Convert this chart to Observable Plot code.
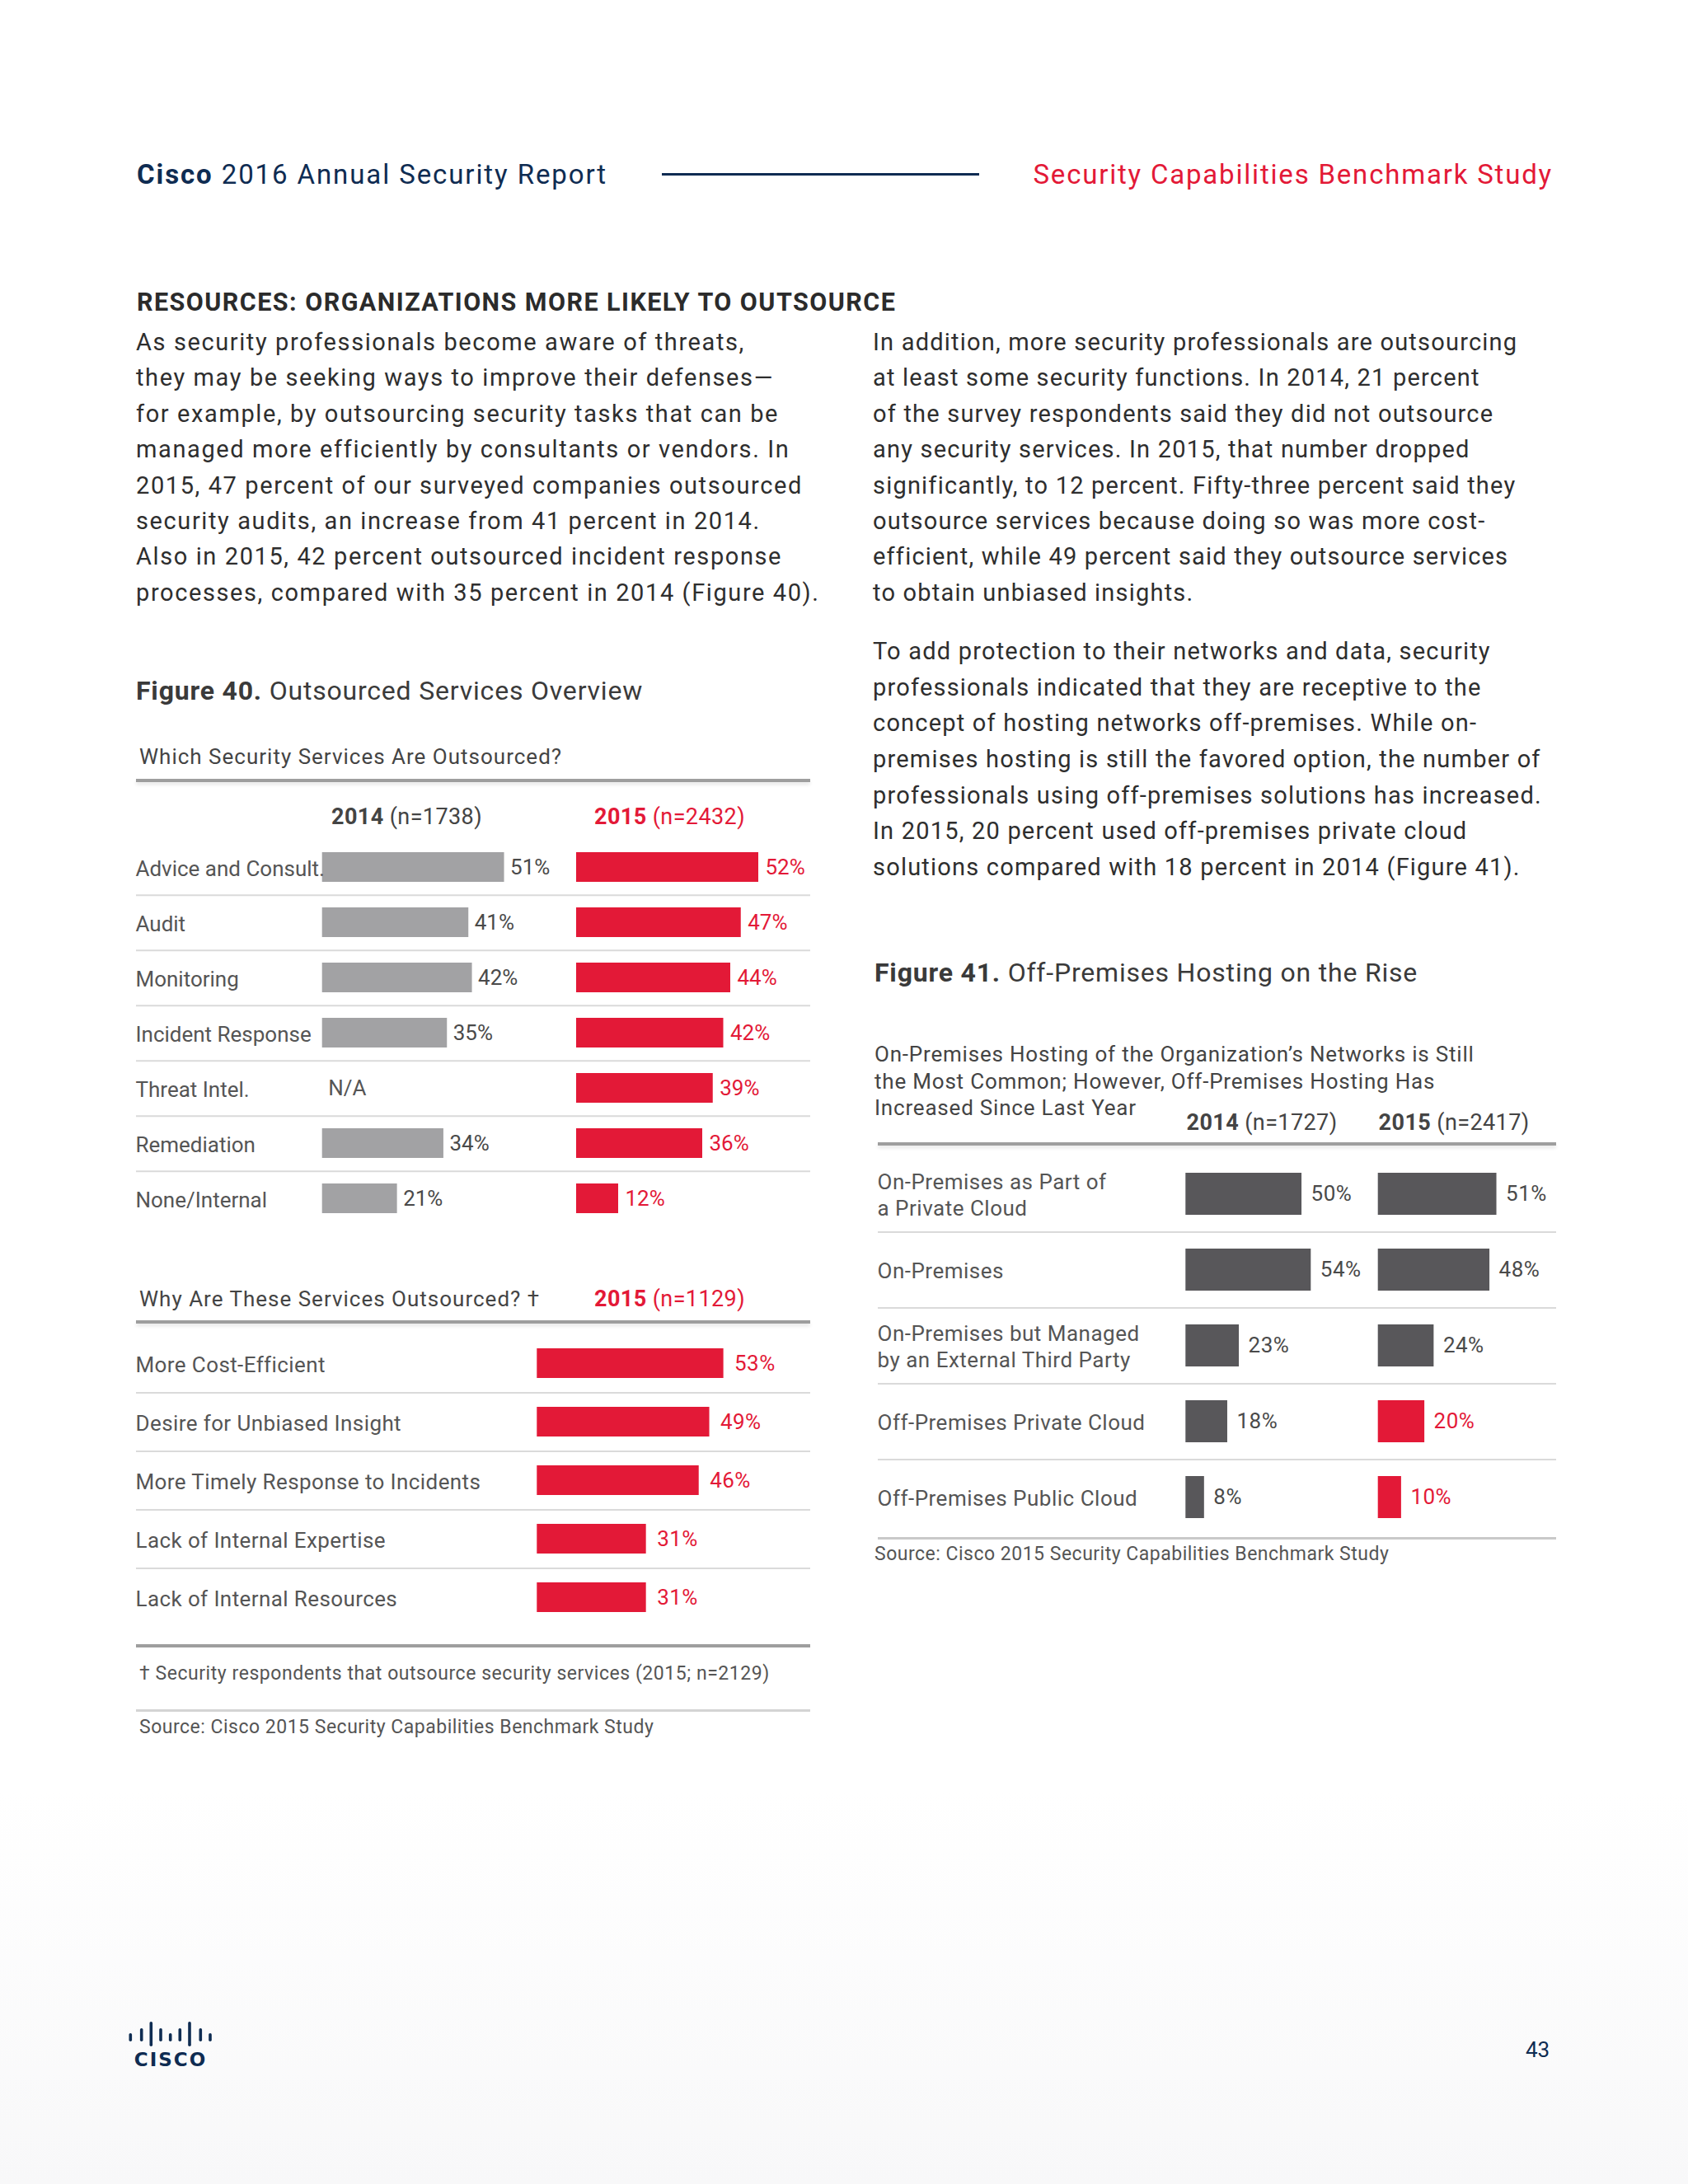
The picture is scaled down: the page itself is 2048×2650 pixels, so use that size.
<!DOCTYPE html>
<html>
<head>
<meta charset="utf-8">
<script src="https://cdn.jsdelivr.net/npm/d3@7"></script>
<script src="https://cdn.jsdelivr.net/npm/@observablehq/plot@0.6"></script>
<style>
html, body { margin: 0; padding: 0; background: #fff; }
#page { position: relative; width: 2048px; height: 2650px; overflow: hidden;
  font-family: Roboto, "Noto Sans", sans-serif; color: #333;
  background: linear-gradient(to bottom, #ffffff 0%, #ffffff 82%, #f8f8f9 100%); }
.t { position: absolute; white-space: nowrap; line-height: 1; transform: translateY(-50%); }
.para { position: absolute; white-space: nowrap; font-size: 29px; letter-spacing: 1.3px; color: #2e2e2e; }
.rule { position: absolute; }
.plot { position: absolute; }
.plot svg { overflow: visible; }
b { font-weight: 700; }
</style>
</head>
<body>
<div id="page"></div>
<script>
// ---------- data ----------
const services = ["Advice and Consult.", "Audit", "Monitoring", "Incident Response", "Threat Intel.", "Remediation", "None/Internal"];
const services2014 = [51, 41, 42, 35, null, 34, 21];
const services2015 = [52, 47, 44, 42, 39, 36, 12];

const reasons = ["More Cost-Efficient", "Desire for Unbiased Insight", "More Timely Response to Incidents", "Lack of Internal Expertise", "Lack of Internal Resources"];
const reasons2015 = [53, 49, 46, 31, 31];

const hosting = ["On-Premises as Part of\na Private Cloud", "On-Premises", "On-Premises but Managed\nby an External Third Party", "Off-Premises Private Cloud", "Off-Premises Public Cloud"];
const hosting2014 = [50, 54, 23, 18, 8];
const hosting2015 = [51, 48, 24, 20, 10];

// ---------- helpers ----------
const RED = "#e31937";
const NAVY = "#0f2c52";
const LIGHTGRAY = "#a2a2a4";
const DARKGRAY = "#58575a";
const page = document.getElementById("page");

function txt(html, x, y, style = {}) {
  const d = document.createElement("div");
  d.className = "t";
  d.style.left = x + "px";
  d.style.top = y + "px";
  Object.assign(d.style, style);
  d.innerHTML = html;
  page.append(d);
  return d;
}
function para(lines, x, top, lh, style = {}) {
  const d = document.createElement("div");
  d.className = "para";
  d.style.left = x + "px";
  d.style.top = top + "px";
  d.style.lineHeight = lh + "px";
  Object.assign(d.style, style);
  d.innerHTML = lines.join("<br>");
  page.append(d);
}
function rule(x, y, w, h, color, shadow) {
  const d = document.createElement("div");
  d.className = "rule";
  Object.assign(d.style, {left: x + "px", top: y + "px", width: w + "px", height: h + "px", background: color});
  if (shadow) d.style.boxShadow = "0 3px 4px rgba(0,0,0,0.10)";
  page.append(d);
}

function tableColumn({cats, vals, step, barFrac, x0, pxPer, width, barFill, valueFill, dx,
                      withLabels = false, labelColor = "#555", labelSize = 26, lineHeight = 1.23, naText = null,
                      letterSpacing = "0px"}) {
  const data = cats.map((c, i) => ({cat: c, v: vals[i]}));
  const present = data.filter(d => d.v != null);
  const missing = data.filter(d => d.v == null);
  const height = step * cats.length;
  const marks = [];
  if (withLabels) {
    marks.push(Plot.ruleY(cats.slice(0, -1), {y: d => d, dy: step / 2, stroke: "#dadada", strokeWidth: 2}));
  }
  marks.push(Plot.barX(present, {x: "v", y: "cat", fill: barFill}));
  if (withLabels) {
    marks.push(Plot.text(data, {y: "cat", text: "cat", frameAnchor: "left", textAnchor: "start", dx: -1,
      fill: labelColor, fontSize: labelSize, lineHeight}));
  }
  marks.push(Plot.text(present, {x: "v", y: "cat", text: d => d.v + "%", textAnchor: "start", dx,
    fill: valueFill, fontSize: 26}));
  if (naText && missing.length) {
    marks.push(Plot.text(missing, {x: () => 0, y: "cat", text: () => naText, textAnchor: "start", dx: 7,
      fill: "#555", fontSize: 26}));
  }
  return Plot.plot({
    width, height, margin: 0,
    x: {domain: [0, 100], range: [x0, x0 + 100 * pxPer], axis: null},
    y: {domain: cats, range: [0, height], paddingInner: 1 - barFrac, paddingOuter: (1 - barFrac) / 2, align: 0.5, axis: null},
    color: {type: "identity"},
    style: {fontFamily: "Roboto, 'Noto Sans', sans-serif", fontSize: "26px", background: "transparent",
      overflow: "visible", letterSpacing},
    marks
  });
}
function place(svg, left, top) {
  const d = document.createElement("div");
  d.className = "plot";
  d.style.left = left + "px";
  d.style.top = top + "px";
  d.append(svg);
  page.append(d);
}

// ---------- header ----------
txt(`<b>Cisco</b> 2016 Annual Security Report`, 166, 211, {fontSize: "33px", letterSpacing: "1.9px", color: NAVY});
rule(803, 210, 385, 3, NAVY);
const red = txt(`Security Capabilities Benchmark Study`, 0, 211, {fontSize: "33px", letterSpacing: "1.8px", color: RED});
red.style.left = ""; red.style.right = (2048 - 1884) + "px";

txt(`RESOURCES: ORGANIZATIONS MORE LIKELY TO OUTSOURCE`, 166, 367,
  {fontSize: "30.5px", letterSpacing: "1.45px", fontWeight: "700", color: "#2b2b2b"});

// ---------- body text ----------
para([
  "As security professionals become aware of threats,",
  "they may be seeking ways to improve their defenses—",
  "for example, by outsourcing security tasks that can be",
  "managed more efficiently by consultants or vendors. In",
  "2015, 47 percent of our surveyed companies outsourced",
  "security audits, an increase from 41 percent in 2014.",
  "Also in 2015, 42 percent outsourced incident response",
  "processes, compared with 35 percent in 2014 (Figure 40)."
], 165, 394, 43.4, {letterSpacing: "1.6px"});
para([
  "In addition, more security professionals are outsourcing",
  "at least some security functions. In 2014, 21 percent",
  "of the survey respondents said they did not outsource",
  "any security services. In 2015, that number dropped",
  "significantly, to 12 percent. Fifty-three percent said they",
  "outsource services because doing so was more cost-",
  "efficient, while 49 percent said they outsource services",
  "to obtain unbiased insights."
], 1059, 394, 43.4, {letterSpacing: "1.2px"});
para([
  "To add protection to their networks and data, security",
  "professionals indicated that they are receptive to the",
  "concept of hosting networks off-premises. While on-",
  "premises hosting is still the favored option, the number of",
  "professionals using off-premises solutions has increased.",
  "In 2015, 20 percent used off-premises private cloud",
  "solutions compared with 18 percent in 2014 (Figure 41)."
], 1059, 769, 43.65, {letterSpacing: "1.2px"});

// ---------- Figure 40 ----------
txt(`<b>Figure 40.</b> Outsourced Services Overview`, 165, 838, {fontSize: "32px", letterSpacing: "0.8px", color: "#3a3a3a"});
txt(`Which Security Services Are Outsourced?`, 169, 918, {fontSize: "26px", letterSpacing: "1px", color: "#444"});
rule(165, 945, 818, 4, "#9e9e9e", true);
txt(`<b>2014</b> (n=1738)`, 402, 991, {fontSize: "27px", letterSpacing: "0.4px", color: "#444"});
txt(`<b>2015</b> (n=2432)`, 721, 991, {fontSize: "27px", letterSpacing: "0.4px", color: RED});

const top40 = {cats: services, step: 67.3, barFrac: 0.535, width: 818};
place(tableColumn({...top40, vals: services2014, x0: 225.7, pxPer: 4.33, barFill: LIGHTGRAY, valueFill: "#4a4a4a", dx: 7,
  withLabels: true, naText: "N/A"}), 165, 1017);
place(tableColumn({...top40, vals: services2015, x0: 534, pxPer: 4.25, barFill: RED, valueFill: RED, dx: 8}), 165, 1017);

txt(`Why Are These Services Outsourced? †`, 169, 1575.5, {fontSize: "26px", letterSpacing: "1px", color: "#444"});
txt(`<b>2015</b> (n=1129)`, 721, 1575.5, {fontSize: "27px", letterSpacing: "0.4px", color: RED});
rule(165, 1602, 818, 4, "#9e9e9e", true);
place(tableColumn({cats: reasons, vals: reasons2015, step: 71, barFrac: 0.507, width: 818, x0: 486.3, pxPer: 4.27,
  barFill: RED, valueFill: RED, dx: 13, withLabels: true, letterSpacing: "0.4px"}), 165, 1617.5);
rule(165, 1995, 818, 4, "#9e9e9e", false);
txt(`† Security respondents that outsource security services (2015; n=2129)`, 169, 2030,
  {fontSize: "23px", letterSpacing: "0.55px", color: "#555"});
rule(165, 2074, 818, 3, "#d4d4d4", false);
txt(`Source: Cisco 2015 Security Capabilities Benchmark Study`, 169, 2095,
  {fontSize: "23px", letterSpacing: "0.5px", color: "#555"});

// ---------- Figure 41 ----------
txt(`<b>Figure 41.</b> Off-Premises Hosting on the Rise`, 1061, 1179.5, {fontSize: "32px", letterSpacing: "0.8px", color: "#3a3a3a"});
const sub = document.createElement("div");
sub.className = "para";
Object.assign(sub.style, {left: "1061px", top: "1263.4px", lineHeight: "32.3px", fontSize: "26px",
  letterSpacing: "0.8px", color: "#444"});
sub.innerHTML = ["On-Premises Hosting of the Organization’s Networks is Still",
  "the Most Common; However, Off-Premises Hosting Has", "Increased Since Last Year"].join("<br>");
page.append(sub);
txt(`<b>2014</b> (n=1727)`, 1439.5, 1362, {fontSize: "27px", letterSpacing: "0.4px", color: "#444"});
txt(`<b>2015</b> (n=2417)`, 1672.6, 1362, {fontSize: "27px", letterSpacing: "0.4px", color: "#444"});
rule(1065, 1386, 823, 4, "#9e9e9e", true);

const offPrem = d => d.cat.startsWith("Off-");
const f41 = {cats: hosting, step: 92, barFrac: 0.558, width: 823, dx: 11, letterSpacing: "0.5px"};
place(tableColumn({...f41, vals: hosting2014, x0: 373.3, pxPer: 2.815, barFill: DARKGRAY, valueFill: "#4a4a4a",
  withLabels: true}), 1065, 1403);
place(tableColumn({...f41, vals: hosting2015, x0: 606.7, pxPer: 2.82,
  barFill: d => offPrem(d) ? RED : DARKGRAY, valueFill: d => offPrem(d) ? RED : "#4a4a4a"}), 1065, 1403);
rule(1065, 1865, 823, 3, "#c9c9c9", false);
txt(`Source: Cisco 2015 Security Capabilities Benchmark Study`, 1061, 1885,
  {fontSize: "23px", letterSpacing: "0.5px", color: "#555"});

// ---------- footer ----------
const logo = document.createElement("div");
logo.style.position = "absolute"; logo.style.left = "150px"; logo.style.top = "2445px";
const bx = [8.3, 21.7, 33.3, 45, 56.7, 68.3, 80, 93.3, 105];
const kind = [0, 1, 2, 1, 0, 1, 2, 1, 0];
const spans = [[22, 32], [16, 32], [8, 38]];
logo.innerHTML = `<svg width="120" height="70">${bx.map((x, i) =>
  `<rect x="${x - 1.8}" y="${spans[kind[i]][0]}" width="3.6" height="${spans[kind[i]][1] - spans[kind[i]][0]}" rx="1.8" fill="${NAVY}"/>`).join("")}
  <text x="57" y="62" text-anchor="middle" font-family="'DejaVu Sans', Lato, sans-serif" font-weight="700" font-size="23" letter-spacing="2" fill="${NAVY}">CISCO</text></svg>`;
page.append(logo);
txt(`43`, 1851, 2487, {fontSize: "26px", color: NAVY});
</script>
</body>
</html>
